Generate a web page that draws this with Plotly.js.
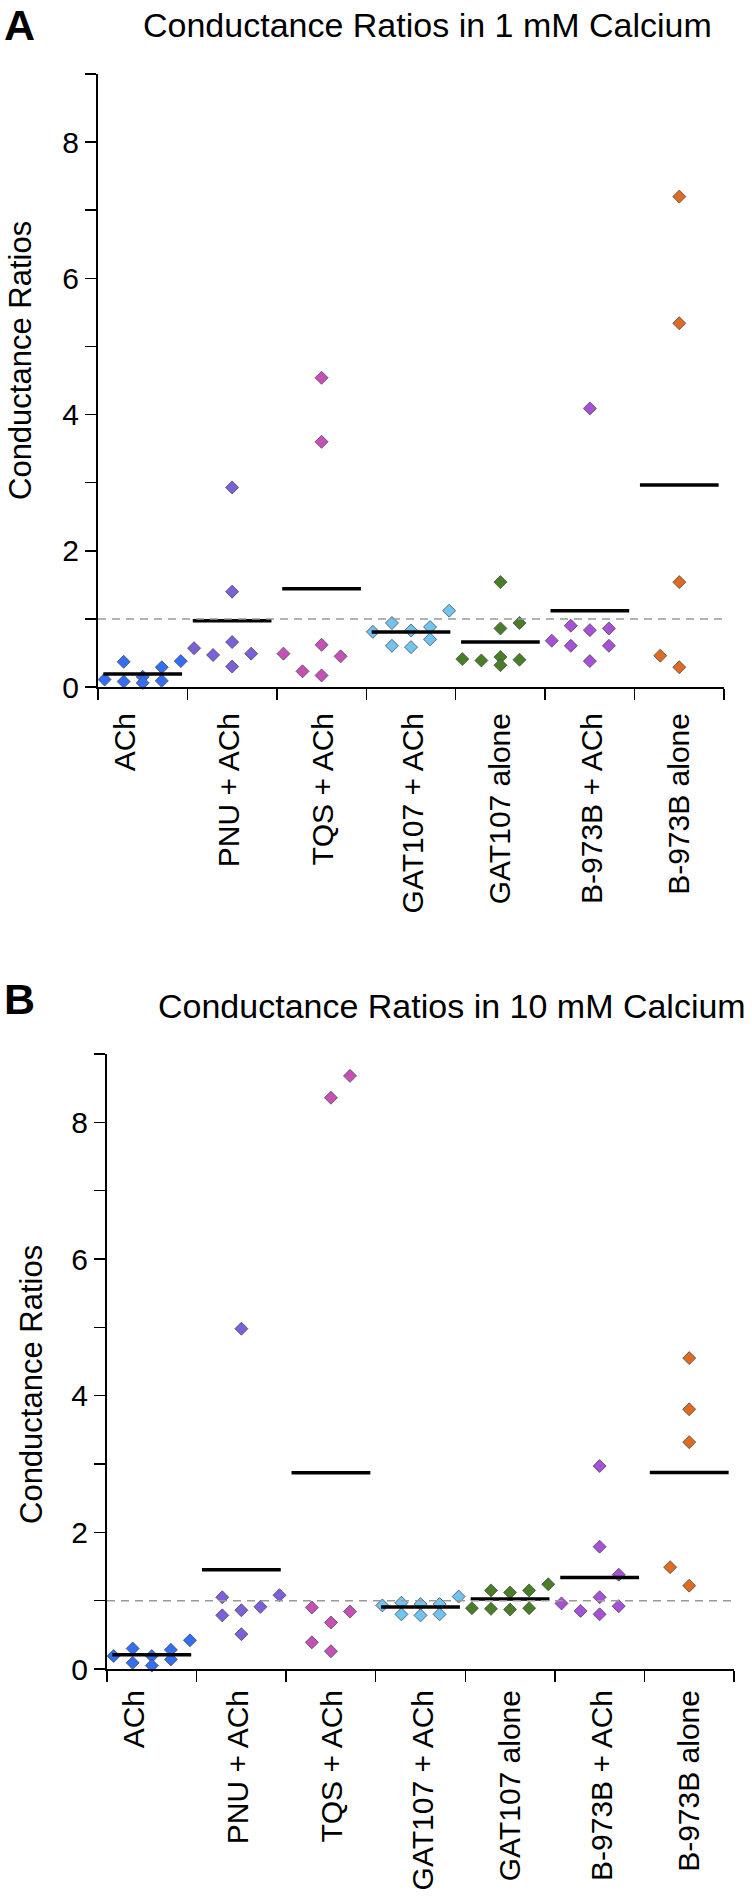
<!DOCTYPE html>
<html>
<head>
<meta charset="utf-8">
<script src="https://cdn.plot.ly/plotly-3.0.1.min.js"></script>
<style>html,body{margin:0;padding:0;background:#fff;}#chart{width:752px;height:1897px;}</style>
</head>
<body>
<div id="chart"></div>
<script>
// ---------- data ----------
const categories = ["ACh", "PNU + ACh", "TQS + ACh", "GAT107 + ACh", "GAT107 alone", "B-973B + ACh", "B-973B alone"];
const yTickVals = [0, 1, 2, 3, 4, 5, 6, 7, 8, 9];
const yTickText = ["0", "", "2", "", "4", "", "6", "", "8", ""];

// Panel A: 1 mM Calcium (values, and column slot of each point within its group)
const a_ACh      = [0.11, 0.37, 0.08, 0.15, 0.06, 0.29, 0.09, 0.38];
const a_PNU      = [0.57, 0.47, 2.93, 1.40, 0.66, 0.30, 0.49];
const a_TQS      = [0.49, 0.23, 4.54, 3.60, 0.62, 0.17, 0.45];
const a_GAT_ACh  = [0.81, 0.94, 0.605, 0.83, 0.585, 0.88, 0.70, 1.12];
const a_GAT      = [0.41, 0.39, 1.54, 0.86, 0.44, 0.32, 0.94, 0.40];
const a_B973_ACh = [0.68, 0.90, 0.605, 4.09, 0.835, 0.38, 0.86, 0.605];
const a_B973     = [0.46, 1.54, 0.29, 7.20, 5.34];

const a_slots_ACh      = [-2, -1, -1, 0, 0, 1, 1, 2];
const a_slots_PNU      = [-2, -1, 0, 0, 0, 0, 1];
const a_slots_TQS      = [-2, -1, 0, 0, 0, 0, 1];
const a_slots_GAT_ACh  = [-2, -1, -1, 0, 0, 1, 1, 2];
const a_slots_GAT      = [-2, -1, 0, 0, 0, 0, 1, 1];
const a_slots_B973_ACh = [-2, -1, -1, 0, 0, 0, 1, 1];
const a_slots_B973     = [-1, 0, 0, 0, 0];

// Panel B: 10 mM Calcium
const b_ACh      = [0.19, 0.30, 0.09, 0.19, 0.05, 0.28, 0.14, 0.42];
const b_PNU      = [1.05, 0.785, 0.86, 0.51, 4.98, 0.91, 1.08];
const b_TQS      = [0.90, 0.39, 0.68, 0.26, 8.36, 0.84, 8.68];
const b_GAT_ACh  = [0.93, 0.97, 0.80, 0.95, 0.785, 0.95, 0.80, 1.06];
const b_GAT      = [0.89, 1.15, 0.88, 1.12, 0.87, 1.15, 0.89, 1.24];
const b_B973_ACh = [0.96, 0.85, 2.97, 1.79, 1.05, 0.80, 1.38, 0.92];
const b_B973     = [1.49, 1.22, 3.32, 3.80, 4.55];

const b_slots_ACh      = [-2, -1, -1, 0, 0, 1, 1, 2];
const b_slots_PNU      = [-1, -1, 0, 0, 0, 1, 2];
const b_slots_TQS      = [-1, -1, 0, 0, 0, 1, 1];
const b_slots_GAT_ACh  = [-2, -1, -1, 0, 0, 1, 1, 2];
const b_slots_GAT      = [-2, -1, -1, 0, 0, 1, 1, 2];
const b_slots_B973_ACh = [-2, -1, 0, 0, 0, 0, 1, 1];
const b_slots_B973     = [-1, 0, 0, 0, 0];

const referenceLevel = 1;

// ---------- styles ----------
const colors = ["#336ef5", "#7b60d9", "#c551b7", "#6fc4f2", "#4a7d28", "#a651d8", "#df6a22"];
const FONT = "Liberation Sans, Arial, Helvetica, sans-serif";
const W = 752, H = 1897;
const SLOT = 0.213;
const HALF = 0.44;
// label anchor positions (first label sits a little left of its group centre in the original)
const labelPos = [-0.2, 0.97, 2.02, 3.03, 4.0, 5.03, 6.0];

const panels = [
  { vals: [a_ACh, a_PNU, a_TQS, a_GAT_ACh, a_GAT, a_B973_ACh, a_B973],
    slots: [a_slots_ACh, a_slots_PNU, a_slots_TQS, a_slots_GAT_ACh, a_slots_GAT, a_slots_B973_ACh, a_slots_B973],
    xa: "x", ya: "y" },
  { vals: [b_ACh, b_PNU, b_TQS, b_GAT_ACh, b_GAT, b_B973_ACh, b_B973],
    slots: [b_slots_ACh, b_slots_PNU, b_slots_TQS, b_slots_GAT_ACh, b_slots_GAT, b_slots_B973_ACh, b_slots_B973],
    xa: "x2", ya: "y2" }
];

const traces = [];
panels.forEach(p => {
  p.vals.forEach((v, i) => {
    traces.push({
      type: "scatter", mode: "markers", xaxis: p.xa, yaxis: p.ya,
      x: p.slots[i].map(s => i + s * SLOT), y: v, cliponaxis: false,
      marker: { symbol: "diamond", size: 10, color: colors[i], line: { color: "#4a4a4a", width: 0.8 } },
      hoverinfo: "y"
    });
  });
  p.vals.forEach((v, i) => {
    const m = v.reduce((a, b) => a + b, 0) / v.length;
    traces.push({
      type: "scatter", mode: "lines", xaxis: p.xa, yaxis: p.ya,
      x: [i - HALF, i + HALF], y: [m, m], cliponaxis: false,
      line: { color: "#000", width: 3.5 }, hoverinfo: "skip"
    });
  });
  traces.push({
    type: "scatter", mode: "lines", xaxis: p.xa, yaxis: p.ya,
    x: [-0.5, 6.6], y: [referenceLevel, referenceLevel], cliponaxis: false,
    line: { color: "#999", width: 1.5, dash: "8px,6px" }, hoverinfo: "skip"
  });
});

const px = v => v / W;
const py = v => 1 - v / H;

function xAxis(domain, anchor, standoff) {
  return {
    domain: domain, anchor: anchor, range: [-0.5, 6.5], fixedrange: true,
    tickmode: "array", tickvals: labelPos, ticktext: categories,
    ticks: "", tickangle: -90, ticklabelstandoff: standoff,
    tickfont: { family: FONT, size: 30, color: "#000" },
    showline: true, linecolor: "#000", linewidth: 2,
    showgrid: false, zeroline: false,
    minor: { tickmode: "array", tickvals: [-0.5, 0.5, 1.5, 2.5, 3.5, 4.5, 5.5, 6.5],
             ticks: "outside", ticklen: 11, tickwidth: 1.5, tickcolor: "#000", showgrid: false }
  };
}
function yAxis(domain, anchor) {
  return {
    domain: domain, anchor: anchor, range: [0, 9], fixedrange: true,
    tickmode: "array", tickvals: yTickVals, ticktext: yTickText,
    ticks: "outside", ticklen: 11, tickwidth: 1.5, tickcolor: "#000",
    tickfont: { family: FONT, size: 30, color: "#000" },
    showline: true, linecolor: "#000", linewidth: 2,
    showgrid: false, zeroline: false
  };
}

const layout = {
  width: W, height: H,
  margin: { l: 0, r: 0, t: 0, b: 0 },
  paper_bgcolor: "#fff", plot_bgcolor: "rgba(0,0,0,0)",
  showlegend: false,
  font: { family: FONT, color: "#000" },
  xaxis: xAxis([px(98), px(724)], "y", 12),
  yaxis: yAxis([py(687), py(74)], "x"),
  xaxis2: xAxis([px(107), px(734)], "y2", 7),
  yaxis2: yAxis([py(1669), py(1054)], "x2"),
  annotations: [
    { text: "<b>A</b>", xref: "paper", yref: "paper", x: px(2), y: py(25.5), xanchor: "left", yanchor: "middle",
      showarrow: false, font: { family: FONT, size: 43, color: "#000" } },
    { text: "Conductance Ratios in 1 mM Calcium", xref: "paper", yref: "paper", x: px(141), y: py(25), xanchor: "left", yanchor: "middle",
      showarrow: false, font: { family: FONT, size: 34, color: "#000" } },
    { text: "Conductance Ratios", xref: "paper", yref: "paper", x: px(20), y: py(361), xanchor: "center", yanchor: "middle",
      textangle: -90, showarrow: false, font: { family: FONT, size: 31, color: "#000" } },
    { text: "<b>B</b>", xref: "paper", yref: "paper", x: px(2), y: py(998.5), xanchor: "left", yanchor: "middle",
      showarrow: false, font: { family: FONT, size: 43, color: "#000" } },
    { text: "Conductance Ratios in 10 mM Calcium", xref: "paper", yref: "paper", x: px(156), y: py(1006), xanchor: "left", yanchor: "middle",
      showarrow: false, font: { family: FONT, size: 34, color: "#000" } },
    { text: "Conductance Ratios", xref: "paper", yref: "paper", x: px(31), y: py(1385), xanchor: "center", yanchor: "middle",
      textangle: -90, showarrow: false, font: { family: FONT, size: 31, color: "#000" } }
  ]
};

Plotly.newPlot("chart", traces, layout, { staticPlot: true, displayModeBar: false });
</script>
</body>
</html>
